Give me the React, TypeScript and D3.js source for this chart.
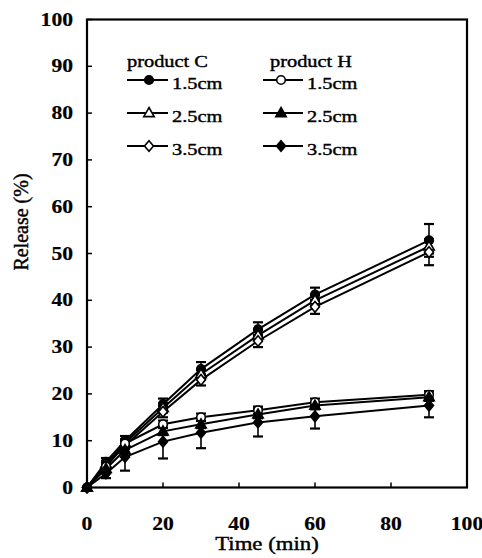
import React from "react";
import * as d3 from "d3";

const time = [0, 5, 10, 20, 30, 45, 60, 90];

const c15 = [0, 5.5, 10, 17.8, 25.3, 33.8, 41.2, 52.8];
const c25 = [0, 5, 9.5, 17, 24.2, 32.5, 40, 51.5];
const c35 = [0, 4.5, 9, 16.2, 23, 31.3, 38.6, 50.3];
const h15 = [0, 4.5, 9.4, 13.5, 15, 16.5, 18.2, 19.8];
const h25 = [0, 4, 8, 12, 13.5, 15.6, 17.5, 19.3];
const h35 = [0, 3, 6.5, 9.8, 11.7, 13.9, 15.2, 17.5];

const c15Err = [0, 0.8, 1, 1.2, 1.5, 1.5, 1.5, 3.5];
const c25Err = [0, 0.5, 0.8, 1, 1, 1.2, 1.2, 1.5];
const c35Err = [0, 0.6, 0.8, 1.2, 1.2, 1.3, 1.5, 2.8];
const h15Err = [0, 0.6, 0.8, 0.8, 0.8, 0.8, 0.8, 0.8];
const h25Err = [0, 0.5, 0.7, 0.8, 0.8, 0.8, 0.8, 0.8];
const h35Err = [0, 1, 2.9, 3.6, 3.3, 3, 2.6, 2.5];

const xTicks = [0, 20, 40, 60, 80, 100];
const yTicks = [0, 10, 20, 30, 40, 50, 60, 70, 80, 90, 100];

const legendGroups = ["product C", "product H"];
const legendLabels = ["1.5cm", "2.5cm", "3.5cm"];

type Shape = "circle" | "triangle" | "diamond";
const series = [
  { group: 0, row: 0, values: c15, err: c15Err, shape: "circle" as Shape, filled: true },
  { group: 0, row: 1, values: c25, err: c25Err, shape: "triangle" as Shape, filled: false },
  { group: 0, row: 2, values: c35, err: c35Err, shape: "diamond" as Shape, filled: false },
  { group: 1, row: 0, values: h15, err: h15Err, shape: "circle" as Shape, filled: false },
  { group: 1, row: 1, values: h25, err: h25Err, shape: "triangle" as Shape, filled: true },
  { group: 1, row: 2, values: h35, err: h35Err, shape: "diamond" as Shape, filled: true },
];

const W = 482;
const H = 558;
const L = 87, R = 467, T = 19.5, B = 487.5;
const SX = 1.2;
const FONT = "'Liberation Serif', 'Times New Roman', serif";

const x = d3.scaleLinear().domain([0, 100]).range([L, R]);
const y = d3.scaleLinear().domain([0, 100]).range([B, T]);

function HText(props: { x: number; y: number; anchor?: string; size: number; weight?: string | number; bold?: number; children: any }) {
  return (
    <g transform={`translate(${props.x},${props.y}) scale(${SX},1)`}>
      <text
        textAnchor={props.anchor || "start"}
        fontSize={props.size}
        fontWeight={props.weight || "normal"}
        fontFamily={FONT}
        fill="#000"
        stroke="#000"
        strokeWidth={props.bold ?? 0.4}
      >
        {props.children}
      </text>
    </g>
  );
}

function Marker({ shape, filled, cx, cy, s = 1 }: { shape: Shape; filled: boolean; cx: number; cy: number; s?: number }) {
  const fill = filled ? "#000" : "#fff";
  const sw = 1.6;
  if (shape === "circle") return <circle cx={cx} cy={cy} r={4.3 * s} fill={fill} stroke="#000" strokeWidth={sw} />;
  if (shape === "triangle") {
    const r = 5.5 * s;
    const pts = [[cx, cy - r], [cx + r * 0.95, cy + r * 0.65], [cx - r * 0.95, cy + r * 0.65]];
    return <polygon points={pts.map((p) => p.join(",")).join(" ")} fill={fill} stroke="#000" strokeWidth={sw} strokeLinejoin="miter" />;
  }
  const r = 5.3 * s;
  const pts = [[cx, cy - r], [cx + r * 0.85, cy], [cx, cy + r], [cx - r * 0.85, cy]];
  return <polygon points={pts.map((p) => p.join(",")).join(" ")} fill={fill} stroke="#000" strokeWidth={sw} />;
}

export default function App() {
  const line = d3.line<number>().x((_, i) => x(time[i])).y((v) => y(v));
  return (
    <svg width={W} height={H} style={{ position: "absolute", left: 0, top: 0, background: "#fff" }}>
      <rect x={0} y={0} width={W} height={H} fill="#fff" />
      {/* frame */}
      <rect x={L} y={T} width={R - L} height={B - T} fill="none" stroke="#000" strokeWidth={2.2} />
      {/* y ticks */}
      {yTicks.map((t) => (
        <g key={"y" + t}>
          <line x1={L} x2={L + 5} y1={y(t)} y2={y(t)} stroke="#000" strokeWidth={1.5} />
          <HText x={73} y={y(t) + 6} anchor="end" size={18} weight="bold" bold={0.2}>{t}</HText>
        </g>
      ))}
      {/* x ticks */}
      {xTicks.map((t) => (
        <g key={"x" + t}>
          <line x1={x(t)} x2={x(t)} y1={B} y2={B - 5} stroke="#000" strokeWidth={1.5} />
          <HText x={x(t)} y={530} anchor="middle" size={18} weight="bold" bold={0.2}>{t}</HText>
        </g>
      ))}
      <HText x={267} y={550} anchor="middle" size={19}>Time (min)</HText>
      <text
        transform="translate(28,222) rotate(-90)"
        textAnchor="middle"
        fontSize={20}
        fontFamily={FONT}
        fill="#000"
        stroke="#000"
        strokeWidth={0.4}
      >
        Release (%)
      </text>

      {/* lines */}
      {series.map((s, i) => (
        <path key={"l" + i} d={line(s.values) || ""} fill="none" stroke="#000" strokeWidth={2} />
      ))}
      {/* error bars */}
      {series.map((s, i) =>
        s.values.map((v, j) =>
          s.err[j] > 0 ? (
            <g key={`e${i}-${j}`} stroke="#000" strokeWidth={1.6}>
              <line x1={x(time[j])} x2={x(time[j])} y1={y(v - s.err[j])} y2={y(v + s.err[j])} />
              <line x1={x(time[j]) - 5} x2={x(time[j]) + 5} y1={y(v - s.err[j])} y2={y(v - s.err[j])} strokeWidth={2.2} />
              <line x1={x(time[j]) - 5} x2={x(time[j]) + 5} y1={y(v + s.err[j])} y2={y(v + s.err[j])} strokeWidth={2.2} />
            </g>
          ) : null
        )
      )}
      {/* markers */}
      {series.map((s, i) =>
        s.values.map((v, j) => <Marker key={`m${i}-${j}`} shape={s.shape} filled={s.filled} cx={x(time[j])} cy={y(v)} />)
      )}

      {/* legend */}
      {legendGroups.map((g, gi) => (
        <HText key={g} x={gi === 0 ? 127 : 270} y={67} size={17}>{g}</HText>
      ))}
      {series.map((s, i) => {
        const ly = 80 + s.row * 33;
        const x0 = s.group === 0 ? 127 : 263;
        const x1 = s.group === 0 ? 168 : 303;
        const mx = s.group === 0 ? 149 : 281;
        return (
          <g key={"lg" + i}>
            <line x1={x0} x2={x1} y1={ly} y2={ly} stroke="#000" strokeWidth={2} />
            <Marker shape={s.shape} filled={s.filled} cx={mx} cy={ly} />
            <HText x={s.group === 0 ? 172 : 307} y={ly + 9} size={17}>{legendLabels[s.row]}</HText>
          </g>
        );
      })}
    </svg>
  );
}
